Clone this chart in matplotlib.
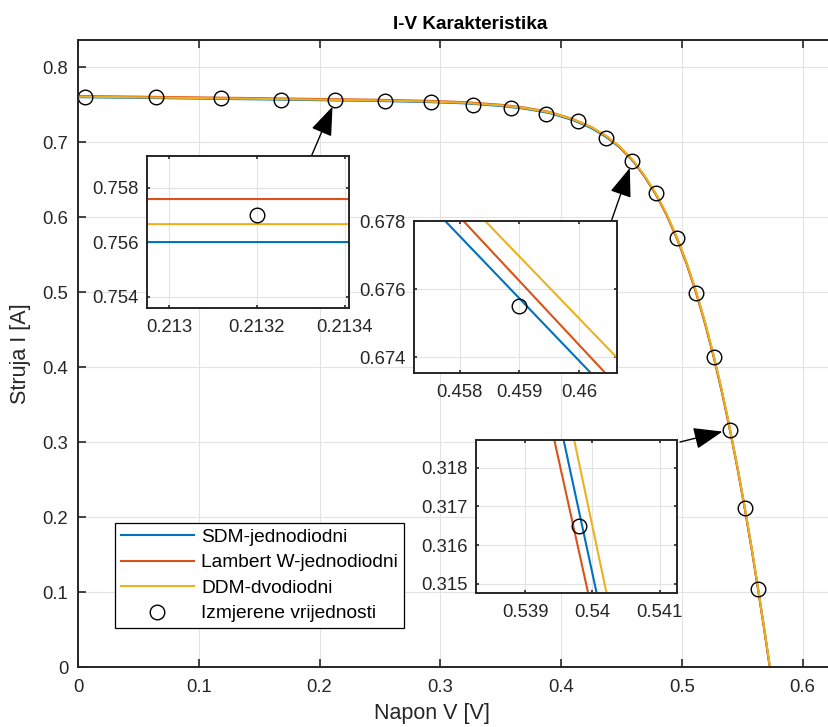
import numpy as np
import matplotlib.pyplot as plt

plt.rcParams['font.family'] = ['Liberation Sans', 'DejaVu Sans']

# Izmjerene vrijednosti (RTC France celija)
v_meas = [0.0057, 0.0646, 0.1185, 0.1678, 0.2132, 0.2545, 0.2924, 0.3269, 0.3585, 0.3873,
          0.4137, 0.4373, 0.4590, 0.4784, 0.4960, 0.5119, 0.5265, 0.5398, 0.5521, 0.5633]
i_meas = [0.7605, 0.7600, 0.7590, 0.7570, 0.7570, 0.7555, 0.7540, 0.7505, 0.7465, 0.7385,
          0.7280, 0.7065, 0.6755, 0.6320, 0.5730, 0.4990, 0.4130, 0.3165, 0.2120, 0.1035]

# Krivulje modela (ocitano sa slike)
v_mod = [0.0, 0.05, 0.10, 0.15, 0.20, 0.2129, 0.2135, 0.25, 0.29, 0.32, 0.35, 0.37, 0.39, 0.41,
         0.425, 0.4373, 0.448, 0.4572, 0.4607, 0.469, 0.4784, 0.487, 0.496, 0.504, 0.5119, 0.519,
         0.5265, 0.533, 0.538, 0.5415, 0.546, 0.5521, 0.558, 0.5633, 0.569, 0.5736]
i_sdm = [0.7603, 0.7594, 0.7584, 0.7574, 0.7563, 0.75600, 0.75600, 0.7552, 0.7538, 0.7521,
         0.7486, 0.7449, 0.7393, 0.7296, 0.7191, 0.7072, 0.6940, 0.67903, 0.67261, 0.6547,
         0.6308, 0.6048, 0.5719, 0.5383, 0.4996, 0.4603, 0.4137, 0.3688, 0.33140, 0.30319,
         0.2664, 0.2122, 0.1562, 0.1023, 0.0424, -0.0087]
i_lw = [0.7619, 0.7610, 0.7600, 0.7590, 0.7579, 0.75758, 0.75758, 0.7568, 0.7554, 0.7537,
        0.7502, 0.7464, 0.7408, 0.7310, 0.7205, 0.7084, 0.6948, 0.67963, 0.67304, 0.6551,
        0.6309, 0.6045, 0.5713, 0.5374, 0.4985, 0.4590, 0.4124, 0.3675, 0.33001, 0.30247,
        0.2653, 0.2111, 0.1551, 0.1012, 0.0413, -0.0098]
i_ddm = [0.7610, 0.7601, 0.7591, 0.7581, 0.7570, 0.75666, 0.75666, 0.7559, 0.7545, 0.7528,
         0.7494, 0.7457, 0.7402, 0.7307, 0.7204, 0.7086, 0.6953, 0.68024, 0.67386, 0.6560,
         0.6321, 0.6061, 0.5732, 0.5396, 0.5009, 0.4616, 0.4150, 0.3702, 0.33296, 0.30416,
         0.2677, 0.2135, 0.1575, 0.1036, 0.0437, -0.0074]

labels = ['SDM-jednodiodni', 'Lambert W-jednodiodni', 'DDM-dvodiodni', 'Izmjerene vrijednosti']
colors = ['#0072BD', '#D95319', '#EDB120']

x_ticks = [0, 0.1, 0.2, 0.3, 0.4, 0.5, 0.6]
x_ticklabels = ['0', '0.1', '0.2', '0.3', '0.4', '0.5', '0.6']
y_ticks = [0, 0.1, 0.2, 0.3, 0.4, 0.5, 0.6, 0.7, 0.8]
y_ticklabels = ['0', '0.1', '0.2', '0.3', '0.4', '0.5', '0.6', '0.7', '0.8']

# uvecani prikazi: (tocka, xlim, ylim, xticks, xlabels, yticks, ylabels)
zoom1 = (4, (0.21295, 0.21341), (0.75358, 0.75916),
         [0.213, 0.2132, 0.2134], ['0.213', '0.2132', '0.2134'],
         [0.754, 0.756, 0.758], ['0.754', '0.756', '0.758'])
zoom2 = (12, (0.45724, 0.46063), (0.67354, 0.678),
         [0.458, 0.459, 0.46], ['0.458', '0.459', '0.46'],
         [0.674, 0.676, 0.678], ['0.674', '0.676', '0.678'])
zoom3 = (17, (0.53827, 0.54126), (0.31476, 0.31872),
         [0.539, 0.54, 0.541], ['0.539', '0.54', '0.541'],
         [0.315, 0.316, 0.317, 0.318], ['0.315', '0.316', '0.317', '0.318'])

W, H = 829, 727
txt = '#262626'
fig = plt.figure(figsize=(W / 100, H / 100), dpi=100)
ax = fig.add_axes([78 / W, (H - 667) / H, 785 / W, (667 - 40) / H])


def style(a, tl):
    a.grid(True, color='#e3e3e3', lw=0.8)
    a.set_axisbelow(True)
    for s in a.spines.values():
        s.set_linewidth(1.4)
        s.set_color(txt)
    a.tick_params(direction='in', length=tl, width=1.2, top=True, right=True,
                  colors=txt, labelsize=13.3)


def draw(a, ms):
    a.plot(v_mod, i_sdm, color=colors[0], lw=1.5, label=labels[0])
    a.plot(v_mod, i_lw, color=colors[1], lw=1.5, label=labels[1])
    a.plot(v_mod, i_ddm, color=colors[2], lw=1.5, label=labels[2])
    a.plot(v_meas, i_meas, 'o', mfc='none', mec='k', ms=ms, mew=1.0, label=labels[3])


draw(ax, 10.5)
style(ax, 6)
ax.set_xlim(0, 0.65)
ax.set_ylim(0, 0.8366)
ax.set_xticks(x_ticks, x_ticklabels)
ax.set_yticks(y_ticks, y_ticklabels)
ax.tick_params(axis='x', pad=9)
ax.tick_params(axis='y', pad=7)
ax.set_xlabel('Napon V [V]', fontsize=15.5, color=txt)
ax.xaxis.set_label_coords((432 - 78) / 785, -0.057)
ax.set_ylabel('Struja I [A]', fontsize=15.5, color=txt, labelpad=8)
ax.set_title('I-V Karakteristika', fontsize=13.6, fontweight='bold', color='k', pad=8)

leg = ax.legend(loc='lower left', bbox_to_anchor=(115 / W, (H - 628) / H),
                bbox_transform=fig.transFigure, borderaxespad=0, fontsize=13.8,
                handlelength=3.8, handletextpad=0.4, labelspacing=0.42, borderpad=0.3,
                numpoints=1, fancybox=False, framealpha=1)
leg.get_frame().set_edgecolor('k')
leg.get_frame().set_linewidth(0.9)

# pozicije uvecanih prikaza u pikselima (lijevo, gore, desno, dolje) i repovi strelica
boxes = [(147, 156, 349, 308), (414, 221, 617, 373), (476, 440, 677, 593)]
tails = [(311, 157), (611, 222), (680, 442)]

for z, (l, t, r, b), (tx, ty) in zip([zoom1, zoom2, zoom3], boxes, tails):
    k, xl, yl, xt, xtl, yt, ytl = z
    ax.annotate('', xy=(v_meas[k], i_meas[k]), xycoords='data',
                xytext=(tx / W, 1 - ty / H), textcoords='figure fraction',
                arrowprops=dict(arrowstyle='-|>,head_length=1.2,head_width=0.45',
                                color='k', lw=1.0, shrinkA=0, shrinkB=5.5,
                                mutation_scale=15))
    ins = fig.add_axes([l / W, 1 - b / H, (r - l) / W, (b - t) / H])
    draw(ins, 10.5)
    style(ins, 2.5)
    ins.set_xlim(*xl)
    ins.set_ylim(*yl)
    ins.set_xticks(xt, xtl)
    ins.set_yticks(yt, ytl)
    ins.tick_params(axis='x', pad=8)
    ins.tick_params(axis='y', pad=6)

fig.savefig('out.png', dpi=100)
